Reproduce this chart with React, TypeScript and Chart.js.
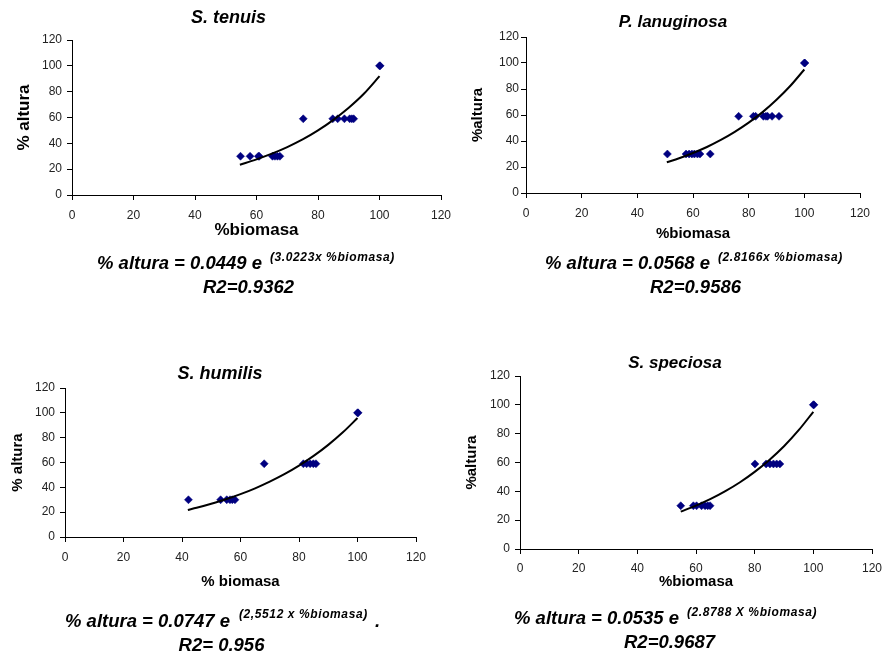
import React, { useEffect, useRef } from "react";
import { Chart, registerables } from "chart.js";

Chart.register(...registerables);

const FONT = '"Liberation Sans", Arial, Helvetica, sans-serif';

// Shared tick labels
const xTickValues = [0, 20, 40, 60, 80, 100, 120];
const yTickValues = [0, 20, 40, 60, 80, 100, 120];

// S. tenuis
const tenuisBiomasa = [54.8, 57.9, 60.6, 60.9, 65.2, 66.0, 66.8, 67.6, 75.2, 84.8, 86.4, 88.6, 90.3, 91.0, 91.6, 100, 100.2];
const tenuisAltura = [30, 30, 30, 30, 30, 30, 30, 30, 59, 59, 59, 59, 59, 59, 59, 100, 100];
const tenuisTrendX = [54.6, 60, 65, 70, 75, 80, 85, 90, 95, 100];
const tenuisTrendY = [23.4, 27.6, 32.0, 37.1, 43.0, 50.0, 58.2, 67.6, 78.6, 92.0];

// P. lanuginosa
const lanuginosaBiomasa = [50.8, 57.5, 58.6, 59.6, 60.5, 61.6, 62.5, 66.2, 76.4, 81.7, 82.5, 85.3, 86.2, 86.8, 88.4, 90.9, 100, 100.2];
const lanuginosaAltura = [30, 30, 30, 30, 30, 30, 30, 30, 59, 59, 59, 59, 59, 59, 59, 59, 100, 100];
const lanuginosaTrendX = [50.6, 55, 60, 65, 70, 75, 80, 85, 90, 95, 100];
const lanuginosaTrendY = [23.6, 26.7, 30.8, 35.4, 40.8, 47.0, 54.1, 62.2, 71.7, 82.5, 95.0];

// S. humilis
const humilisBiomasa = [42.2, 53.2, 55.3, 56.4, 57.2, 58.1, 68.1, 81.5, 82.6, 83.8, 84.9, 85.8, 100, 100.2];
const humilisAltura = [30, 30, 30, 30, 30, 30, 59, 59, 59, 59, 59, 59, 100, 100];
const humilisTrendX = [42, 45, 50, 55, 60, 65, 70, 75, 80, 85, 90, 95, 100];
const humilisTrendY = [21.8, 23.5, 26.8, 30.4, 34.5, 39.2, 44.6, 50.6, 57.5, 65.3, 74.2, 84.3, 95.8];

// S. speciosa
const speciosaBiomasa = [54.8, 59.1, 60.2, 61.9, 63.1, 64.0, 64.8, 80.1, 83.9, 85.2, 86.4, 87.5, 88.6, 100, 100.2];
const speciosaAltura = [30, 30, 30, 30, 30, 30, 30, 59, 59, 59, 59, 59, 59, 100, 100];
const speciosaTrendX = [54.8, 60, 65, 70, 75, 80, 85, 90, 95, 100];
const speciosaTrendY = [25.9, 30.1, 34.7, 40.1, 46.3, 53.5, 61.8, 71.3, 82.4, 95.2];

type PanelCfg = {
  bx: number[]; ay: number[]; tx: number[]; ty: number[];
  title: string; yTitle: string; xTitle: string;
  eqMain: string; eqSup: string; eqTail?: string; r2: string;
  // layout (page pixels)
  L: number; R: number; T: number; B: number;
  yTitleX: number; xTitleY: number; axisFont: number; yTickPad: number; xTickPad: number;
  titleX: number; titleY: number; titleSize: number;
  eqX: number; eqY: number; supX: number; supY: number; tailX?: number;
  r2X: number; r2Y: number;
};

const W = 886;
const H = 657;
const CW = 940; // canvas wider than page so right tick labels never squeeze the plot

const panels: PanelCfg[] = [
  {
    bx: tenuisBiomasa, ay: tenuisAltura, tx: tenuisTrendX, ty: tenuisTrendY,
    title: "S. tenuis", yTitle: "% altura", xTitle: "%biomasa",
    eqMain: "% altura = 0.0449 e", eqSup: "(3.0223x %biomasa)", r2: "R2=0.9362",
    L: 72, R: 441, T: 40, B: 195, yTitleX: 24, xTitleY: 230, axisFont: 17, yTickPad: 5, xTickPad: 8,
    titleX: 228.5, titleY: 17, titleSize: 18,
    eqX: 97, eqY: 263, supX: 270, supY: 257, r2X: 248.5, r2Y: 287,
  },
  {
    bx: lanuginosaBiomasa, ay: lanuginosaAltura, tx: lanuginosaTrendX, ty: lanuginosaTrendY,
    title: "P. lanuginosa", yTitle: "%altura", xTitle: "%biomasa",
    eqMain: "% altura = 0.0568 e", eqSup: "(2.8166x %biomasa)", r2: "R2=0.9586",
    L: 526, R: 860, T: 37, B: 193, yTitleX: 478, xTitleY: 234, axisFont: 15, yTickPad: 2, xTickPad: 8,
    titleX: 673, titleY: 21, titleSize: 17,
    eqX: 545, eqY: 263, supX: 718, supY: 257, r2X: 695.5, r2Y: 287,
  },
  {
    bx: humilisBiomasa, ay: humilisAltura, tx: humilisTrendX, ty: humilisTrendY,
    title: "S. humilis", yTitle: "% altura", xTitle: "% biomasa",
    eqMain: "% altura = 0.0747 e", eqSup: "(2,5512 x %biomasa)", eqTail: ".", r2: "R2= 0.956",
    L: 65, R: 416, T: 388, B: 537, yTitleX: 17.5, xTitleY: 582, axisFont: 15, yTickPad: 5, xTickPad: 8,
    titleX: 220, titleY: 373, titleSize: 18,
    eqX: 65, eqY: 621, supX: 239, supY: 614, tailX: 375, r2X: 221.5, r2Y: 645,
  },
  {
    bx: speciosaBiomasa, ay: speciosaAltura, tx: speciosaTrendX, ty: speciosaTrendY,
    title: "S. speciosa", yTitle: "%altura", xTitle: "%biomasa",
    eqMain: "% altura = 0.0535 e", eqSup: "(2.8788 X %biomasa)", r2: "R2=0.9687",
    L: 520, R: 872, T: 376, B: 549, yTitleX: 472, xTitleY: 582, axisFont: 15, yTickPad: 5, xTickPad: 7,
    titleX: 675, titleY: 362, titleSize: 17,
    eqX: 514, eqY: 618, supX: 687, supY: 612, r2X: 669.5, r2Y: 642,
  },
];

function PanelChart({ cfg }: { cfg: PanelCfg }) {
  const ref = useRef<HTMLCanvasElement>(null);
  useEffect(() => {
    if (!ref.current) return;
    const lh = cfg.axisFont * 1.2;
    const padLeft = cfg.yTitleX - lh / 2;
    const yAxisW = cfg.L - padLeft;
    const padBottom = H - cfg.xTitleY - lh / 2;
    const xAxisH = H - padBottom - cfg.B;
    const points = cfg.bx.map((x, i) => ({ x, y: cfg.ay[i] }));
    const trend = cfg.tx.map((x, i) => ({ x, y: cfg.ty[i] }));
    const chart = new Chart(ref.current, {
      type: "scatter",
      data: {
        datasets: [
          {
            data: trend,
            showLine: true,
            borderColor: "#000",
            borderWidth: 2,
            pointRadius: 0,
            cubicInterpolationMode: "monotone",
            order: 0,
          } as any,
          {
            data: points,
            pointStyle: "rectRot",
            pointRadius: 4,
            pointBackgroundColor: "#000080",
            pointBorderColor: "#000080",
            pointBorderWidth: 0.5,
            showLine: false,
            order: 1,
          } as any,
        ],
      },
      options: {
        responsive: false,
        animation: false,
        events: [],
        layout: {
          padding: { left: padLeft, right: CW - cfg.R, top: cfg.T, bottom: padBottom },
        },
        plugins: {
          legend: { display: false },
          tooltip: { enabled: false },
          title: { display: false },
        },
        scales: {
          x: {
            type: "linear",
            min: 0,
            max: 120,
            afterBuildTicks: (s: any) => { s.ticks = xTickValues.map((v) => ({ value: v })); },
            afterFit: (s: any) => { s.height = xAxisH; },
            grid: { drawOnChartArea: false, drawTicks: true, tickLength: 5, color: "#000", lineWidth: 1 },
            border: { display: true, color: "#000", width: 1 },
            ticks: { color: "#222", font: { family: FONT, size: 12 }, padding: cfg.xTickPad, maxRotation: 0 },
            title: {
              display: true, text: cfg.xTitle, color: "#000", padding: 0,
              font: { family: FONT, size: cfg.axisFont, weight: "bold" },
            },
          },
          y: {
            type: "linear",
            min: 0,
            max: 120,
            afterBuildTicks: (s: any) => { s.ticks = yTickValues.map((v) => ({ value: v })); },
            afterFit: (s: any) => { s.width = yAxisW; },
            grid: { drawOnChartArea: false, drawTicks: true, tickLength: 5, color: "#000", lineWidth: 1 },
            border: { display: true, color: "#000", width: 1 },
            ticks: { color: "#222", font: { family: FONT, size: 12 }, padding: cfg.yTickPad },
            title: {
              display: true, text: cfg.yTitle, color: "#000", padding: 0,
              font: { family: FONT, size: cfg.axisFont, weight: "bold" },
            },
          },
        },
      } as any,
    });
    return () => chart.destroy();
  }, [cfg]);
  return (
    <canvas
      ref={ref}
      width={CW}
      height={H}
      style={{ position: "absolute", left: 0, top: 0, width: CW, height: H }}
    />
  );
}

const textBase: React.CSSProperties = {
  position: "absolute",
  fontFamily: FONT,
  fontWeight: "bold",
  fontStyle: "italic",
  color: "#000",
  whiteSpace: "nowrap",
  lineHeight: 1,
};

function PanelTexts({ cfg }: { cfg: PanelCfg }) {
  return (
    <>
      <div style={{ ...textBase, left: cfg.titleX, top: cfg.titleY, fontSize: cfg.titleSize, transform: "translate(-50%, -50%)" }}>
        {cfg.title}
      </div>
      <div style={{ ...textBase, left: cfg.eqX, top: cfg.eqY, fontSize: 18.5, transform: "translateY(-50%)" }}>
        {cfg.eqMain}
      </div>
      <div style={{ ...textBase, left: cfg.supX, top: cfg.supY, fontSize: 12, letterSpacing: 0.6, transform: "translateY(-50%)" }}>
        {cfg.eqSup}
      </div>
      {cfg.eqTail ? (
        <div style={{ ...textBase, left: cfg.tailX, top: cfg.eqY, fontSize: 18.5, transform: "translateY(-50%)" }}>
          {cfg.eqTail}
        </div>
      ) : null}
      <div style={{ ...textBase, left: cfg.r2X, top: cfg.r2Y, fontSize: 18.5, transform: "translate(-50%, -50%)" }}>
        {cfg.r2}
      </div>
    </>
  );
}

export default function App() {
  return (
    <div style={{ position: "absolute", left: 0, top: 0, width: W, height: H, background: "#fff", overflow: "hidden" }}>
      {panels.map((p, i) => (
        <PanelChart key={"c" + i} cfg={p} />
      ))}
      {panels.map((p, i) => (
        <PanelTexts key={"t" + i} cfg={p} />
      ))}
    </div>
  );
}
